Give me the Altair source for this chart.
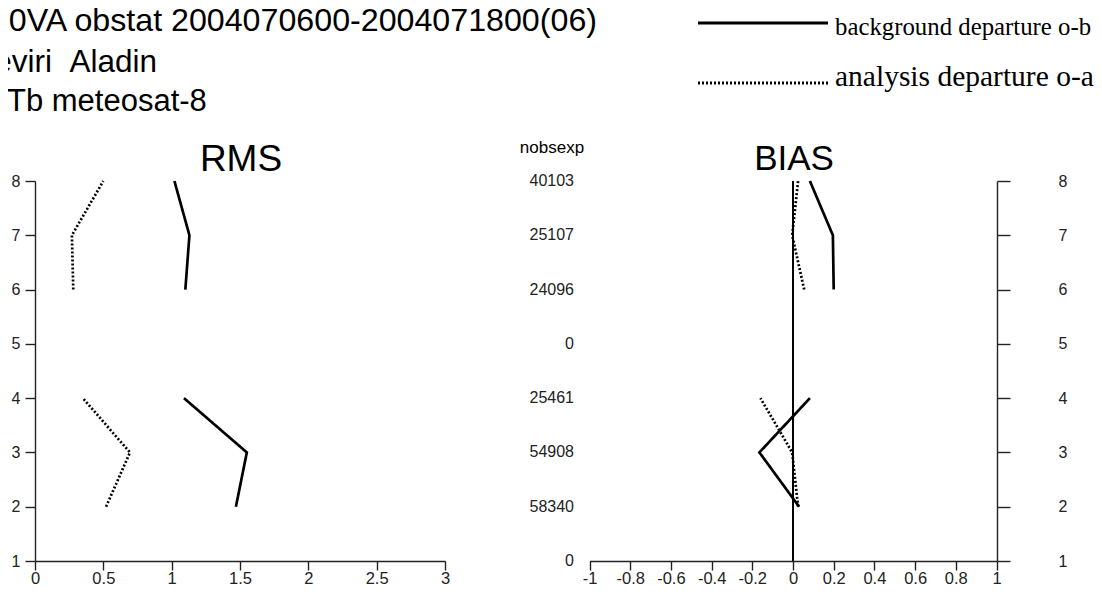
import altair as alt
import pandas as pd

# ---------------- data ----------------
levels = [2, 3, 4, 6, 7, 8]
segments = ["lower", "lower", "lower", "upper", "upper", "upper"]
rms_ob = [1.47, 1.55, 1.09, 1.10, 1.13, 1.02]
rms_oa = [0.52, 0.695, 0.35, 0.28, 0.27, 0.50]
bias_ob = [0.03, -0.165, 0.083, 0.20, 0.196, 0.083]
bias_oa = [0.025, -0.004, -0.16, 0.055, -0.004, 0.025]

kinds = ["background departure o-b", "analysis departure o-a"]

nobs_levels = [1, 2, 3, 4, 5, 6, 7, 8]
nobs_values = ["0", "58340", "54908", "25461", "0", "24096", "25107", "40103"]
nobs_header = "nobsexp"

rms_ticks = [0, 0.5, 1, 1.5, 2, 2.5, 3]
bias_ticks = [-1, -0.8, -0.6, -0.4, -0.2, 0, 0.2, 0.4, 0.6, 0.8, 1]
level_ticks = [1, 2, 3, 4, 5, 6, 7, 8]

header_lines = ["20VA obstat 2004070600-2004071800(06)",
                "Seviri\u00a0\u00a0Aladin",
                "Tb meteosat-8"]
panel_titles = ["RMS", "BIAS"]

# ---------------- tables ----------------
rows = []
for kind, rv, bv in [(kinds[0], rms_ob, bias_ob), (kinds[1], rms_oa, bias_oa)]:
    for lv, sg, r, b in zip(levels, segments, rv, bv):
        rows.append({"kind": kind, "level": lv, "seg": sg, "rms": r, "bias": b})
df = pd.DataFrame(rows)
nobs_df = pd.DataFrame({"level": nobs_levels, "n": nobs_values})

SANS = "Liberation Sans"
SERIF = "Liberation Serif"
W, H = 962, 380

dash = alt.StrokeDash("kind:N",
                      scale=alt.Scale(domain=kinds, range=[[1, 0], [2, 2]]),
                      legend=None)

axis_common = dict(grid=False, title=None, domainColor="#222", tickColor="#222",
                   domainWidth=1.4, tickWidth=1.4, labelColor="#222",
                   labelFont=SANS, labelFlush=False, labelOverlap=False)

rms_x = alt.Scale(domain=[0, 3], range=[0, 410], nice=False, zero=False)
bias_x = alt.Scale(domain=[-1, 1], range=[554.5, 961.5], nice=False, zero=False)
rms_y = alt.Scale(domain=[1, 8], nice=False, zero=False)
bias_y = alt.Scale(domain=[1, 8], nice=False, zero=False)

# ---------------- RMS panel ----------------
rms_lines = alt.Chart(df).mark_line(color="black", strokeWidth=2.7).encode(
    x=alt.X("rms:Q", scale=rms_x,
            axis=alt.Axis(orient="bottom", values=rms_ticks, format="~g",
                          tickSize=9, labelPadding=0, labelFontSize=16.5,
                          **axis_common)),
    y=alt.Y("level:Q", scale=rms_y,
            axis=alt.Axis(orient="left", values=level_ticks, format="d",
                          tickSize=10, labelPadding=5, labelFontSize=16,
                          **axis_common)),
    strokeDash=dash,
    detail="seg:N",
    order="level:Q",
)

# ---------------- BIAS panel ----------------
bias_lines = alt.Chart(df).mark_line(color="black", strokeWidth=2.7).encode(
    x=alt.X("bias:Q", scale=bias_x,
            axis=alt.Axis(orient="bottom", values=bias_ticks,
                          labelExpr="(datum.value < 0 ? '-' : '') + format(abs(datum.value), '~g')",
                          tickSize=9, labelPadding=0, labelFontSize=16.5,
                          **axis_common)),
    y=alt.Y("level:Q", scale=bias_y,
            axis=alt.Axis(orient="right", values=level_ticks, format="d",
                          tickSize=13, labelPadding=48, labelFontSize=16,
                          **axis_common)),
    strokeDash=dash,
    detail="seg:N",
    order="level:Q",
)

zero_rule = alt.Chart(nobs_df).mark_rule(color="black", strokeWidth=1).encode(
    x=alt.datum(0),
    y=alt.datum(1),
    y2=alt.datum(8),
)

nobs_text = alt.Chart(nobs_df).mark_text(
    align="right", baseline="middle", dx=-15.5, fontSize=16, font=SANS, color="#222"
).encode(
    x=alt.datum(-1),
    y=alt.Y("level:Q"),
    text="n:N",
)

rms_layer = alt.layer(rms_lines)
bias_layer = alt.layer(bias_lines, zero_rule, nobs_text)


# ---------------- annotations ----------------
def label(text, x, y, size, font=SANS, align="left"):
    return alt.Chart(pd.DataFrame({"t": [text]})).mark_text(
        x=x, y=y, fontSize=size, font=font, align=align,
        baseline="alphabetic", color="black"
    ).encode(text="t:N")


legend_df = pd.DataFrame({"k": kinds})

leg_solid = alt.Chart(legend_df.iloc[[0]]).mark_rule(
    color="black", strokeWidth=3
).encode(x=alt.value(663), x2=alt.value(793), y=alt.value(-158))
leg_dot = alt.Chart(legend_df.iloc[[1]]).mark_rule(
    color="black", strokeWidth=3, strokeDash=[2, 2]
).encode(x=alt.value(663), x2=alt.value(793), y=alt.value(-98))

annotations = [
    label(header_lines[0], 562, -150, 32.2, align="right"),
    label(header_lines[1], 122, -109, 31.5, align="right"),
    label(header_lines[2], -28, -70, 31),
    label(kinds[0], 800, -146, 24.8, font=SERIF),
    label(kinds[1], 800, -95, 29.5, font=SERIF),
    label(panel_titles[0], 206, -10, 37, align="center"),
    label(panel_titles[1], 759, -11, 35, align="center"),
    label(nobs_header, 517, -28, 17, align="center"),
    leg_solid,
    leg_dot,
]

chart = alt.layer(rms_layer, bias_layer, *annotations).resolve_scale(
    x="independent", y="independent"
).properties(
    width=W, height=H,
    autosize=alt.AutoSizeParams(type="none"),
    padding={"left": 27, "top": 173, "right": 97, "bottom": 27},
).configure_view(stroke=None).configure_axis(grid=False)

chart.save("out.html", embed_options={"renderer": "svg", "actions": False})
